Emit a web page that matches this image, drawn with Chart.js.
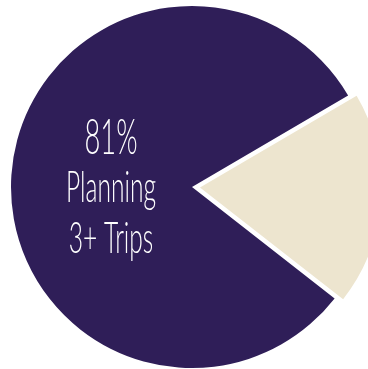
<!DOCTYPE html>
<html>
<head>
<meta charset="utf-8">
<script src="https://cdn.jsdelivr.net/npm/chart.js@4"></script>
<style>
  html, body { margin: 0; padding: 0; background: #ffffff; }
  #wrap { width: 368px; height: 369px; }
</style>
</head>
<body>
<div id="wrap"><canvas id="myChart"></canvas></div>
<script>
// data
const labels = ['Planning 3+ Trips', 'Planning fewer trips'];
const shares = [81, 19];
const sliceColors = ['#2f1e58', '#ede5cf'];
const centerLines = ['81%', 'Planning', '3+ Trips'];

// draws the label inside the big slice, squeezed like a condensed face
const centerText = {
    id: 'centerText',
    afterDatasetsDraw(chart) {
        const ctx = chart.ctx;
        const sizes = [49, 44, 44];
        const baselines = [154, 202, 253];
        ctx.save();
        ctx.fillStyle = '#ffffff';
        ctx.textAlign = 'center';
        ctx.textBaseline = 'alphabetic';
        ctx.font = '300 44px Lato';
        const squeeze = 90 / ctx.measureText(centerLines[1]).width;
        for (let i = 0; i < centerLines.length; i++) {
            ctx.save();
            ctx.font = '300 ' + sizes[i] + 'px Lato';
            ctx.translate(111, baselines[i]);
            ctx.scale(squeeze, 1);
            ctx.fillText(centerLines[i], 0, 0);
            ctx.restore();
        }
        ctx.restore();
    }
};

let ctx = document.getElementById('myChart').getContext('2d');

let myChart = new Chart(ctx, {
    type: 'pie',
    data: {
        labels: labels,
        datasets: [{
            data: shares,
            backgroundColor: sliceColors,
            borderColor: '#ffffff',
            borderWidth: 0,
            // arc offset gets divided by 4 when drawn, so 32 -> ~8px shift
            offset: [0, 32],
            hoverOffset: 0,
            clip: false,
        }]
    },
    options: {
        responsive: true,
        maintainAspectRatio: false,
        animation: false,
        rotation: 128,
        radius: 181,
        layout: {
            padding: { left: 16, right: 0, top: 5, bottom: 0 }
        },
        plugins: {
            legend: { display: false },
            tooltip: { enabled: false }
        }
    },
    plugins: [centerText]
});
</script>
</body>
</html>
